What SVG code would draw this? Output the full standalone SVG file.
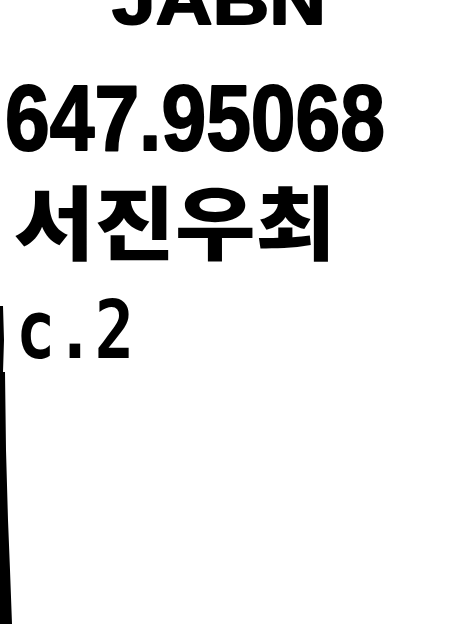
<svg xmlns="http://www.w3.org/2000/svg" width="450" height="624" viewBox="0 0 450 624">
<style>
.t{fill:#000;font-weight:bold}
.heavy{stroke:#000;stroke-width:2;stroke-linejoin:round}
.lat{font-family:"Liberation Sans","DejaVu Sans",sans-serif}
.kr{font-family:"Noto Sans CJK KR",sans-serif;font-weight:900}
.mono{font-family:"DejaVu Sans Mono","Liberation Mono",monospace}
</style>
<rect width="450" height="624" fill="#fff"/>
<g id="label">
<text id="top" class="t lat heavy" x="112" y="24" font-size="70" textLength="214" lengthAdjust="spacingAndGlyphs">JABN</text>
<text id="callno" class="t lat heavy" x="5" y="150" font-size="92" textLength="380" lengthAdjust="spacingAndGlyphs">647.95068</text>
<text id="author" class="t kr" x="14" y="253" font-size="80" textLength="322" lengthAdjust="spacingAndGlyphs">서진우최</text>
<text id="copy" class="t mono" x="16" y="358" font-size="80" textLength="118" lengthAdjust="spacingAndGlyphs">c.2</text>
<path id="edge" d="M0,306 L3,306 L4,340 L3,372 L5,372 L6,450 L8,520 L10,570 L12,624 L0,624 Z" fill="#000"/>
</g>
</svg>
